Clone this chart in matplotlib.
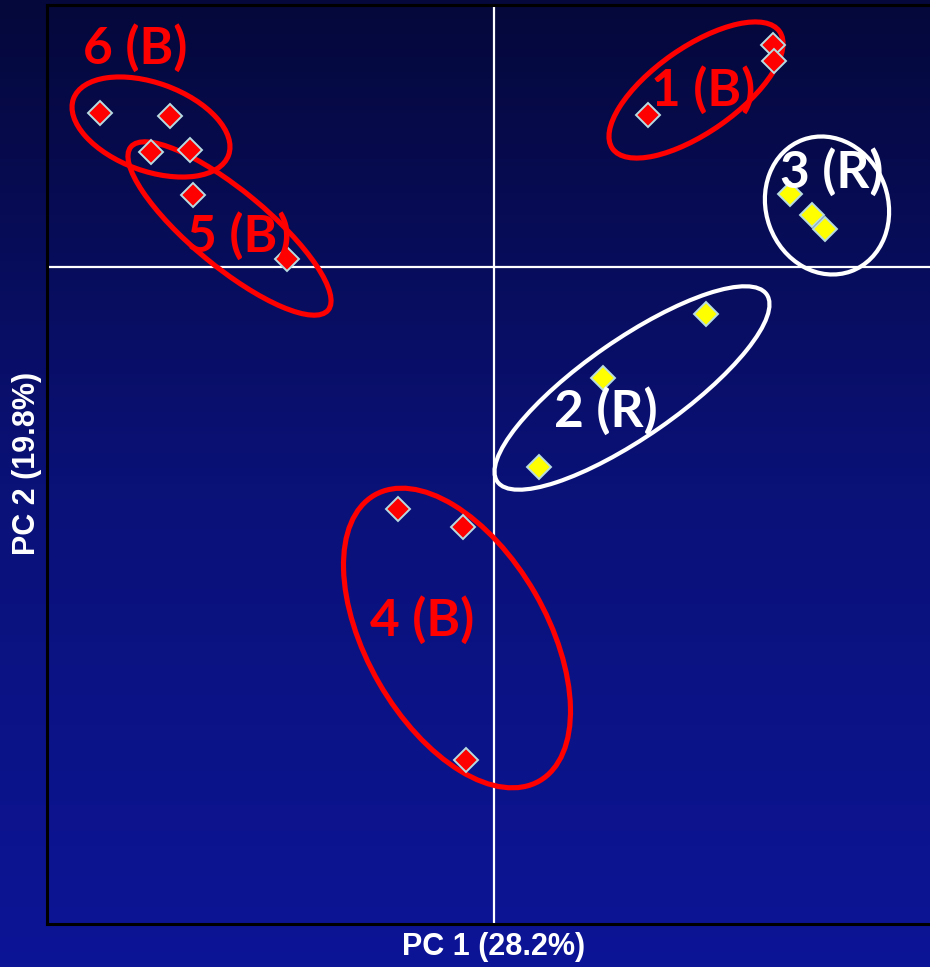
import numpy as np
import matplotlib
matplotlib.use("Agg")
import matplotlib.pyplot as plt
from matplotlib.patches import Ellipse
from matplotlib.colors import LinearSegmentedColormap

# PCA scores
blue_pc1 = [-3.94, -3.24, -3.43, -3.04, -3.01, -2.07, 1.54, 2.79, 2.80, -0.96, -0.31, -0.28]
blue_pc2 = [1.54, 1.51, 1.15, 1.17, 0.72, 0.08, 1.52, 2.22, 2.06, -2.42, -2.60, -4.93]
red_pc1 = [2.96, 3.18, 3.31, 2.12, 1.09, 0.45]
red_pc2 = [0.73, 0.52, 0.38, -0.47, -1.11, -2.00]

# Cluster outlines: label, centre, width, height, angle, label position, colour
group_labels = ["6 (B)", "5 (B)", "1 (B)", "3 (R)", "2 (R)", "4 (B)"]
group_centres = [(-3.43, 1.40), (-2.645, 0.385), (2.02, 1.77), (3.33, 0.615), (1.38, -1.21), (-0.37, -3.71)]
group_widths = [1.65, 2.56, 2.04, 1.40, 3.28, 3.30]
group_heights = [0.88, 0.76, 0.85, 1.22, 0.97, 1.80]
group_angles = [-20, -39.6, 35, -70, 34.8, -60]
label_pos = [(-3.59, 2.19), (-2.55, 0.31), (2.09, 1.77), (3.38, 0.95), (1.12, -1.44), (-0.72, -3.53)]
group_colours = ["#ff0000", "#ff0000", "#ff0000", "white", "white", "#ff0000"]

fig = plt.figure(figsize=(9.30, 9.67), dpi=100)

# vertical gradient background
bg = fig.add_axes([0, 0, 1, 1], zorder=-10)
cmap = LinearSegmentedColormap.from_list("bg", ["#0d1597", "#0a1177", "#05083a"])
grad = np.linspace(0, 1, 256).reshape(-1, 1)
bg.imshow(grad, aspect="auto", cmap=cmap, origin="lower", extent=[0, 1, 0, 1])
bg.set_axis_off()

ax = fig.add_axes([47 / 930, 43 / 967, 1 - 47 / 930, 919 / 967])
ax.set_facecolor("none")
ax.set_xlim(-4.47, 4.36)
ax.set_ylim(-6.57, 2.62)
for side in ["left", "top", "bottom"]:
    ax.spines[side].set_color("black")
    ax.spines[side].set_linewidth(2.2)
ax.spines["right"].set_visible(False)
ax.set_xticks([])
ax.set_yticks([])

ax.axhline(0, color="white", lw=1.6, zorder=1)
ax.axvline(0, color="white", lw=1.6, zorder=1)

for c, w, h, a, col in zip(group_centres, group_widths, group_heights, group_angles, group_colours):
    lw = 3.7 if col != "white" else 3.0
    ax.add_patch(Ellipse(c, w, h, angle=a, fill=False, edgecolor=col, lw=lw, zorder=2))

ax.plot(blue_pc1, blue_pc2, ls="none", marker="D", ms=12, mfc="#ff0000",
        mec="#b6dbe0", mew=1.4, zorder=3)
ax.plot(red_pc1, red_pc2, ls="none", marker="D", ms=12, mfc="#ffff00",
        mec="#b6dbe0", mew=1.4, zorder=3)

for lab, (x, y), col in zip(group_labels, label_pos, group_colours):
    ax.text(x, y, lab, color=col, fontsize=37, fontweight="bold", family="Lato",
            ha="center", va="center", zorder=4)

fig.text(494 / 930, 1 - 947 / 967, "PC 1 (28.2%)", color="white", fontsize=22,
         fontweight="bold", family="Liberation Sans", ha="center", va="center")
fig.text(27 / 930, 1 - 463 / 967, "PC 2 (19.8%)", color="white", fontsize=22,
         fontweight="bold", family="Liberation Sans", ha="center", va="center",
         rotation=90)

fig.savefig("out.png", dpi=100)
